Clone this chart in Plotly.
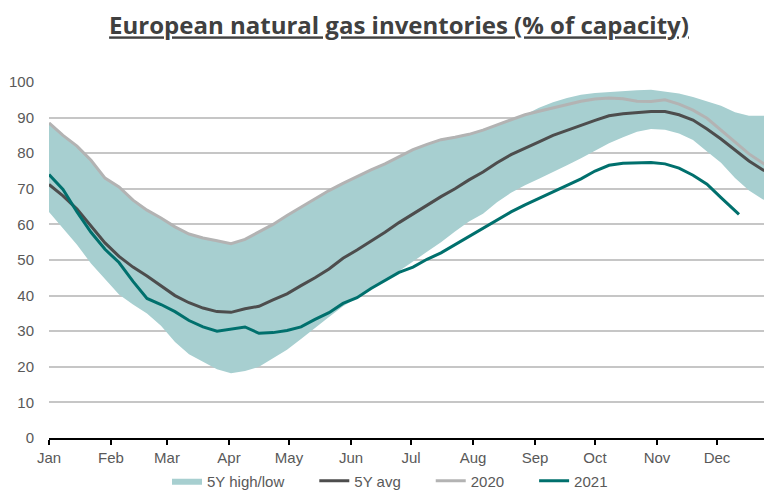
import pandas as pd
import plotly.graph_objects as go

# Weekly sample dates (day 0, 7, 14, ... of the year)
dates = pd.date_range("2021-01-01", periods=53, freq="7D")

band_high = [88.5, 85.0, 82.0, 78.0, 73.0, 70.5, 66.8, 64.0, 61.8, 59.3,
             57.3, 56.2, 55.4, 54.6, 55.8, 57.8, 60.0, 62.5, 64.8, 67.0,
             69.5, 71.5, 73.5, 75.3, 77.0, 79.0, 81.0, 82.5, 83.8, 84.5,
             85.3, 86.5, 88.0, 89.4, 90.8, 92.8, 94.3, 95.5, 96.4, 96.9,
             97.2, 97.5, 97.7, 97.8, 97.4, 96.8, 95.8, 94.6, 93.3, 91.5,
             90.5, 90.5, 90.5]

band_low = [63.5, 59.0, 54.3, 49.0, 44.5, 40.3, 37.5, 35.0, 31.5, 27.0,
            23.5, 21.3, 19.3, 18.2, 18.8, 20.0, 22.3, 24.8, 27.8, 31.0,
            34.0, 37.0, 39.5, 41.8, 44.2, 47.0, 49.6, 52.3, 55.0, 58.0,
            60.8, 63.0, 66.2, 68.9, 71.0, 72.8, 74.6, 76.6, 78.6, 80.8,
            82.8, 84.5, 86.0, 86.8, 86.6, 85.5, 83.7, 80.5, 77.3, 73.0,
            69.5, 67.0, 65.5]

avg_5y = [71.2, 68.0, 64.3, 59.5, 54.8, 51.0, 48.0, 45.5, 42.7, 40.0,
          38.0, 36.5, 35.5, 35.3, 36.3, 37.0, 38.8, 40.5, 42.8, 45.0,
          47.5, 50.5, 52.8, 55.2, 57.8, 60.5, 63.0, 65.5, 67.8, 70.0,
          72.5, 74.7, 77.3, 79.6, 81.3, 83.2, 85.0, 86.5, 87.8, 89.2,
          90.5, 91.1, 91.5, 91.7, 91.7, 90.8, 89.3, 86.8, 84.0, 80.8,
          77.8, 75.3, 73.5]

y2020 = [88.5, 85.0, 82.0, 78.0, 73.0, 70.5, 66.8, 64.0, 61.8, 59.3,
         57.3, 56.2, 55.4, 54.6, 55.8, 57.8, 60.0, 62.5, 64.8, 67.0,
         69.5, 71.5, 73.5, 75.3, 77.0, 79.0, 81.0, 82.5, 83.8, 84.5,
         85.3, 86.5, 88.0, 89.4, 90.8, 91.8, 92.8, 93.8, 94.6, 95.2,
         95.5, 95.3, 94.6, 94.5, 95.0, 93.8, 92.1, 89.8, 86.5, 83.0,
         79.8, 77.2, 75.0]

y2021 = [74.0, 69.8, 63.5, 57.8, 53.0, 49.3, 44.0, 39.2, 37.5, 35.5,
         33.0, 31.2, 30.0, 30.6, 31.2, 29.4, 29.6, 30.2, 31.2, 33.3,
         35.2, 37.8, 39.4, 42.0, 44.3, 46.5, 48.0, 50.2, 52.0, 54.3,
         56.5, 58.8, 61.3, 63.5, 65.5, 67.3, 69.3, 71.0, 72.8, 75.0,
         76.6, 77.2, 77.4, 77.4, 77.0, 75.8, 73.8, 71.3, 67.5, 64.0]
last_2021_date = "2021-12-12"
last_2021_value = 62.8

x2021 = list(dates[:len(y2021)]) + [pd.Timestamp(last_2021_date)]
v2021 = y2021 + [last_2021_value]

y_ticks = [0, 10, 20, 30, 40, 50, 60, 70, 80, 90, 100]

BAND = "#a7cfd0"
AVG = "#4d4d4d"
C2020 = "#b3b3b3"
C2021 = "#00706d"
TXT = "#595959"
FONT = "Liberation Sans, Arial, sans-serif"
PAD = "\u00a0" * 6

# page body has an 8px margin; size the figure so it fits the 772x490 window
W, H = 764, 482

fig = go.Figure()
fig.add_trace(go.Scatter(x=dates, y=band_low, mode="lines", line=dict(width=0, color=BAND),
                         showlegend=False, hoverinfo="skip"))
fig.add_trace(go.Scatter(x=dates, y=band_high, mode="lines", fill="tonexty", fillcolor=BAND,
                         line=dict(width=0, color=BAND), name="5Y high/low" + PAD))
fig.add_trace(go.Scatter(x=dates, y=avg_5y, mode="lines", line=dict(width=3, color=AVG),
                         name="5Y avg" + PAD))
fig.add_trace(go.Scatter(x=dates, y=y2020, mode="lines", line=dict(width=3, color=C2020),
                         name="2020" + PAD))
fig.add_trace(go.Scatter(x=x2021, y=v2021, mode="lines", line=dict(width=3, color=C2021),
                         name="2021"))

fig.update_layout(
    width=W, height=H,
    margin=dict(l=41, r=0, t=74, b=52, autoexpand=False),
    paper_bgcolor="white", plot_bgcolor="white",
    font=dict(family=FONT, size=15, color=TXT),
    title=dict(text="<b>European natural gas inventories (% of capacity)</b>",
               x=391 / W, xanchor="center", xref="container",
               y=1 - 18 / H, yanchor="middle", yref="container",
               font=dict(family="Open Sans, sans-serif", size=24, color="#404040",
                         lineposition="under")),
    legend=dict(orientation="h", x=382 / W, xanchor="center", xref="container",
                y=1 - 473 / H, yanchor="middle", yref="container",
                font=dict(size=15, color=TXT), bgcolor="rgba(0,0,0,0)",
                traceorder="normal"),
    xaxis=dict(range=["2021-01-01", "2021-12-28 12:00"], type="date",
               tickformat="%b", dtick="M1", tick0="2021-01-01",
               showgrid=False, showline=True, linecolor="black", linewidth=1.5,
               ticks="outside", ticklen=5, tickwidth=1.5, tickcolor="black",
               tickfont=dict(size=15, color=TXT), zeroline=False, automargin=False),
    yaxis=dict(range=[0, 100], tickvals=y_ticks, showgrid=True, gridcolor="#c6c6c6",
               gridwidth=1.5, zeroline=False, showline=False, automargin=False,
               tickfont=dict(size=15, color=TXT), ticklabelstandoff=14),
)

fig.write_html("out.html")
